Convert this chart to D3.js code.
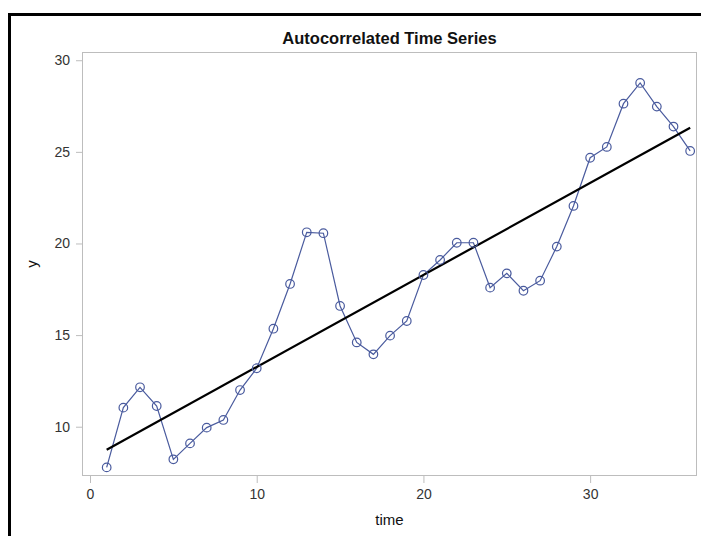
<!DOCTYPE html>
<html>
<head>
<meta charset="utf-8">
<script src="https://cdn.jsdelivr.net/npm/d3@7"></script>
<style>
  html, body { margin: 0; padding: 0; background: #fff; overflow: hidden; }
  svg { display: block; font-family: "Liberation Sans", Arial, sans-serif; }
</style>
</head>
<body>
<script>
/*** data ***/
const time = d3.range(1, 37);
const yValues = [
  7.78, 11.04, 12.15, 11.13, 8.22, 9.09, 9.95, 10.37, 12.0, 13.19,
  15.35, 17.79, 20.61, 20.56, 16.59, 14.6, 13.95, 14.97, 15.77, 18.28,
  19.1, 20.04, 20.04, 17.59, 18.37, 17.42, 17.97, 19.83, 22.05, 24.68,
  25.27, 27.63, 28.76, 27.47, 26.38, 25.05
];
const xTicks = [0, 10, 20, 30];
const yTicks = [10, 15, 20, 25, 30];

/*** layout ***/
const width = 701, height = 536;
const plot = { left: 82, right: 697, top: 52, bottom: 476 };
const seriesColor = "#4a5b9e";

const data = time.map((t, i) => ({ t, y: yValues[i] }));

// least squares fit of y on time
const mx = d3.mean(time), my = d3.mean(yValues);
const slope = d3.sum(data, d => (d.t - mx) * (d.y - my)) / d3.sum(data, d => (d.t - mx) ** 2);
const intercept = my - slope * mx;
const fit = [time[0], time[time.length - 1]].map(t => ({ t, y: intercept + slope * t }));

const x = d3.scaleLinear().domain([-0.48, 36.41]).range([plot.left, plot.right]);
const y = d3.scaleLinear().domain([7.31, 30.45]).range([plot.bottom, plot.top]);

const svg = d3.select("body").append("svg")
  .attr("width", width)
  .attr("height", height);

// outer frame: only top and left edges are inside the picture
const border = d3.path();
border.moveTo(9.5, height);
border.lineTo(9.5, 14.5);
border.lineTo(width, 14.5);
svg.append("path")
  .attr("d", border.toString())
  .attr("fill", "none")
  .attr("stroke", "#000")
  .attr("stroke-width", 3);

// title
svg.append("text")
  .attr("x", (plot.left + plot.right) / 2)
  .attr("y", 44)
  .attr("text-anchor", "middle")
  .attr("font-size", 16.5)
  .attr("font-weight", "bold")
  .attr("fill", "#111")
  .text("Autocorrelated Time Series");

// plot frame
svg.append("rect")
  .attr("x", plot.left + 0.5).attr("y", plot.top + 0.5)
  .attr("width", plot.right - plot.left - 1)
  .attr("height", plot.bottom - plot.top - 1)
  .attr("fill", "none")
  .attr("stroke", "#bdbdbd");

// axes
const xAxis = svg.append("g")
  .attr("transform", `translate(0,${plot.bottom})`)
  .call(d3.axisBottom(x).tickValues(xTicks).tickSize(7).tickPadding(6).tickFormat(d3.format("d")));
const yAxis = svg.append("g")
  .attr("transform", `translate(${plot.left},0)`)
  .call(d3.axisLeft(y).tickValues(yTicks).tickSize(6).tickPadding(6).tickFormat(d3.format("d")));

[xAxis, yAxis].forEach(g => {
  g.select(".domain").remove();
  g.selectAll(".tick line").attr("stroke", "#bdbdbd");
  g.selectAll(".tick text")
    .attr("font-size", 14)
    .attr("font-family", "Liberation Sans, Arial, sans-serif")
    .attr("fill", "#333");
});

// axis labels
svg.append("text")
  .attr("x", (plot.left + plot.right) / 2)
  .attr("y", 525)
  .attr("text-anchor", "middle")
  .attr("font-size", 15)
  .attr("fill", "#111")
  .text("time");

svg.append("text")
  .attr("transform", `translate(37,${(plot.top + plot.bottom) / 2}) rotate(-90)`)
  .attr("text-anchor", "middle")
  .attr("font-size", 15)
  .attr("fill", "#111")
  .text("y");

// series line
const line = d3.line().x(d => x(d.t)).y(d => y(d.y));

svg.append("path")
  .datum(data)
  .attr("d", line)
  .attr("fill", "none")
  .attr("stroke", seriesColor)
  .attr("stroke-width", 1.2);

// fit line
svg.append("path")
  .datum(fit)
  .attr("d", line)
  .attr("fill", "none")
  .attr("stroke", "#000")
  .attr("stroke-width", 2.2);

// markers
svg.append("g")
  .selectAll("circle")
  .data(data)
  .join("circle")
  .attr("cx", d => x(d.t))
  .attr("cy", d => y(d.y))
  .attr("r", 4.3)
  .attr("fill", "none")
  .attr("stroke", seriesColor)
  .attr("stroke-width", 1.2);
</script>
</body>
</html>
